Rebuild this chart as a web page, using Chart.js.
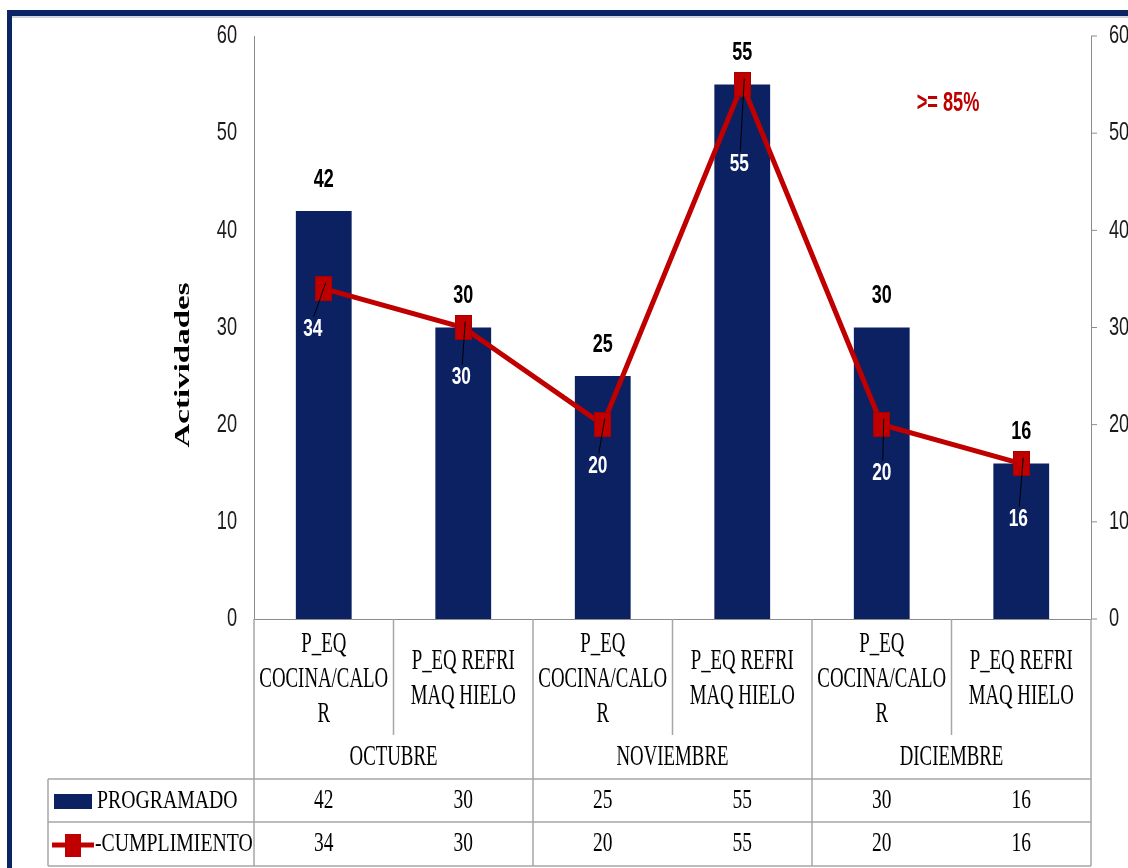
<!DOCTYPE html>
<html>
<head>
<meta charset="utf-8">
<script src="https://cdn.jsdelivr.net/npm/chart.js@4"></script>
<style>
  html, body { margin: 0; padding: 0; background: #ffffff; }
  #wrap { width: 1128px; height: 868px; }
</style>
</head>
<body>
<div id="wrap"><canvas id="myChart" width="1128" height="868"></canvas></div>
<script>
// data
const categories = [
    ['P_EQ', 'COCINA/CALO', 'R'],
    ['P_EQ REFRI', 'MAQ HIELO'],
    ['P_EQ', 'COCINA/CALO', 'R'],
    ['P_EQ REFRI', 'MAQ HIELO'],
    ['P_EQ', 'COCINA/CALO', 'R'],
    ['P_EQ REFRI', 'MAQ HIELO']
];
const months = ['OCTUBRE', 'NOVIEMBRE', 'DICIEMBRE'];
const programado = [42, 30, 25, 55, 30, 16];
const cumplimiento = [34, 30, 20, 55, 20, 16];
const yTicks = [0, 10, 20, 30, 40, 50, 60];
const seriesNames = ['PROGRAMADO', '-CUMPLIMIENTO'];
const yTitle = 'Actividades';
const note = '>= 85%';

const NAVY = '#0b2161';
const RED = '#c00000';
const GRID = '#a6a6a6';
const SANS = "'Liberation Sans', Arial, sans-serif";
const SERIF = "'Liberation Serif', 'Times New Roman', serif";

// the original was stretched vertically, so text gets squeezed sideways
function txt(ctx, s, x, y, font, color, sx, align, rot) {
    ctx.save();
    ctx.font = font;
    ctx.fillStyle = color;
    ctx.textBaseline = 'middle';
    ctx.textAlign = align || 'center';
    ctx.translate(x, y);
    if (rot) ctx.rotate(rot);
    ctx.scale(sx, 1);
    ctx.fillText(s, 0, 0);
    ctx.restore();
}

function line(ctx, x1, y1, x2, y2, color, w) {
    ctx.save();
    ctx.strokeStyle = color;
    ctx.lineWidth = w;
    ctx.beginPath();
    ctx.moveTo(x1, y1);
    ctx.lineTo(x2, y2);
    ctx.stroke();
    ctx.restore();
}

// tall square marker (stretched like the rest of the picture)
const marker = document.createElement('canvas');
marker.width = 17;
marker.height = 25;
(function() {
    const m = marker.getContext('2d');
    m.fillStyle = '#a80000';
    m.fillRect(0, 0, 17, 25);
    m.fillStyle = RED;
    m.fillRect(1, 1, 15, 23);
})();

// manual nudges of the labels on the red line, like in the original
const lineLabelDx = [-11, -2, -5, -3, 0, -3];
const lineLabelDy = [41, 50, 42, 80, 49, 56];

const extras = {
    id: 'extras',
    beforeDraw(chart) {
        const ctx = chart.ctx;
        ctx.save();
        ctx.fillStyle = '#ffffff';
        ctx.fillRect(0, 0, chart.width, chart.height);
        ctx.restore();
    },
    afterDraw(chart) {
        const ctx = chart.ctx;
        const area = chart.chartArea;
        const xs = chart.scales.x;
        const yl = chart.scales.y;
        const yr = chart.scales.y2;

        // frame
        ctx.save();
        ctx.fillStyle = '#d0d4dc';
        ctx.fillRect(7, 16, 1128, 2);
        ctx.fillStyle = '#0a2466';
        ctx.fillRect(7, 10, 1128, 6);
        ctx.fillRect(7, 10, 5, 868);
        ctx.restore();

        // axis tick labels
        yTicks.forEach(v => {
            const py = yl.getPixelForValue(v);
            txt(ctx, String(v), 237, py, '26px ' + SANS, '#1a1a1a', 0.7, 'right');
            txt(ctx, String(v), 1109, yr.getPixelForValue(v), '26px ' + SANS, '#1a1a1a', 0.7, 'left');
            line(ctx, area.right, yr.getPixelForValue(v), area.right + 6, yr.getPixelForValue(v), '#8c8c8c', 1);
        });

        txt(ctx, yTitle, 183, 365, 'bold 22px ' + SERIF, '#000000', 1.5, 'center', -Math.PI / 2);

        // bar values
        const barMeta = chart.getDatasetMeta(1);
        barMeta.data.forEach((bar, i) => {
            txt(ctx, String(programado[i]), bar.x, bar.y - 31, 'bold 25px ' + SANS, '#000000', 0.72);
        });

        // line values with leader lines
        const lineMeta = chart.getDatasetMeta(0);
        lineMeta.data.forEach((pt, i) => {
            const lx = pt.x + lineLabelDx[i];
            const ly = pt.y + lineLabelDy[i];
            line(ctx, pt.x + 2, pt.y - 6, lx + 1, ly - 13, '#000000', 1);
            txt(ctx, String(cumplimiento[i]), lx, ly, 'bold 24px ' + SANS, '#ffffff', 0.72);
        });

        txt(ctx, note, 948, 103, 'bold 28px ' + SANS, RED, 0.65);

        // category labels, months and data table under the axis
        const w = (area.right - area.left) / categories.length;
        for (let k = 0; k <= categories.length; k++) {
            const bx = area.left + k * w;
            const bottom = (k % 2 === 0) ? 866 : 735;
            line(ctx, bx, area.bottom, bx, bottom, GRID, 1.5);
        }
        [779, 822, 866].forEach(y => line(ctx, 48, y, area.right, y, GRID, 1.5));
        line(ctx, 48, 779, 48, 866, GRID, 1.5);

        categories.forEach((lines, i) => {
            const cx = xs.getPixelForValue(i);
            const lh = 35;
            const y0 = 679 - (lines.length - 1) * lh / 2;
            lines.forEach((s, j) => {
                txt(ctx, s, cx, y0 + j * lh, '29px ' + SERIF, '#000000', 0.65);
            });
            txt(ctx, String(programado[i]), cx, 801, '27px ' + SERIF, '#000000', 0.72);
            txt(ctx, String(cumplimiento[i]), cx, 844, '27px ' + SERIF, '#000000', 0.72);
        });
        months.forEach((m, i) => {
            const cx = area.left + (2 * i + 1) * w;
            txt(ctx, m, cx, 757, '29px ' + SERIF, '#000000', 0.65);
        });

        // legend keys in the table
        ctx.save();
        ctx.fillStyle = NAVY;
        ctx.fillRect(54, 794, 38, 15);
        ctx.restore();
        line(ctx, 52, 845, 94, 845, RED, 5);
        ctx.save();
        ctx.fillStyle = RED;
        ctx.fillRect(65, 834, 16, 23);
        ctx.restore();
        txt(ctx, seriesNames[0], 97, 801, '26px ' + SERIF, '#000000', 0.76, 'left');
        txt(ctx, seriesNames[1], 95, 844, '26px ' + SERIF, '#000000', 0.76, 'left');
    }
};

const config = {
    type: 'bar',
    data: {
        labels: categories.map(c => c.join(' ')),
        datasets: [
            {
                type: 'line',
                label: seriesNames[1],
                data: cumplimiento,
                borderColor: RED,
                borderWidth: 5,
                pointStyle: marker,
                pointRadius: 12,
                tension: 0,
                order: 0,
                yAxisID: 'y',
            },
            {
                type: 'bar',
                label: seriesNames[0],
                data: programado,
                backgroundColor: NAVY,
                barPercentage: 0.4,
                categoryPercentage: 1,
                order: 1,
                yAxisID: 'y',
            }
        ]
    },
    options: {
        responsive: false,
        animation: false,
        layout: { padding: { top: 36, left: 0, right: 0, bottom: 0 } },
        plugins: {
            legend: { display: false },
            tooltip: { enabled: false },
        },
        scales: {
            x: {
                grid: { display: false },
                border: { display: true, color: '#8c8c8c' },
                ticks: { display: false },
                afterFit: s => { s.height = 249; }
            },
            y: {
                position: 'left',
                min: 0, max: 60,
                ticks: { stepSize: 10, display: false },
                grid: { display: false },
                border: { display: true, color: '#8c8c8c' },
                afterFit: s => { s.width = 254; }
            },
            y2: {
                position: 'right',
                min: 0, max: 60,
                ticks: { stepSize: 10, display: false },
                grid: { display: false },
                border: { display: true, color: '#8c8c8c' },
                afterFit: s => { s.width = 37; }
            }
        }
    },
    plugins: [extras]
};

const chart = new Chart(document.getElementById('myChart').getContext('2d'), config);
</script>
</body>
</html>
